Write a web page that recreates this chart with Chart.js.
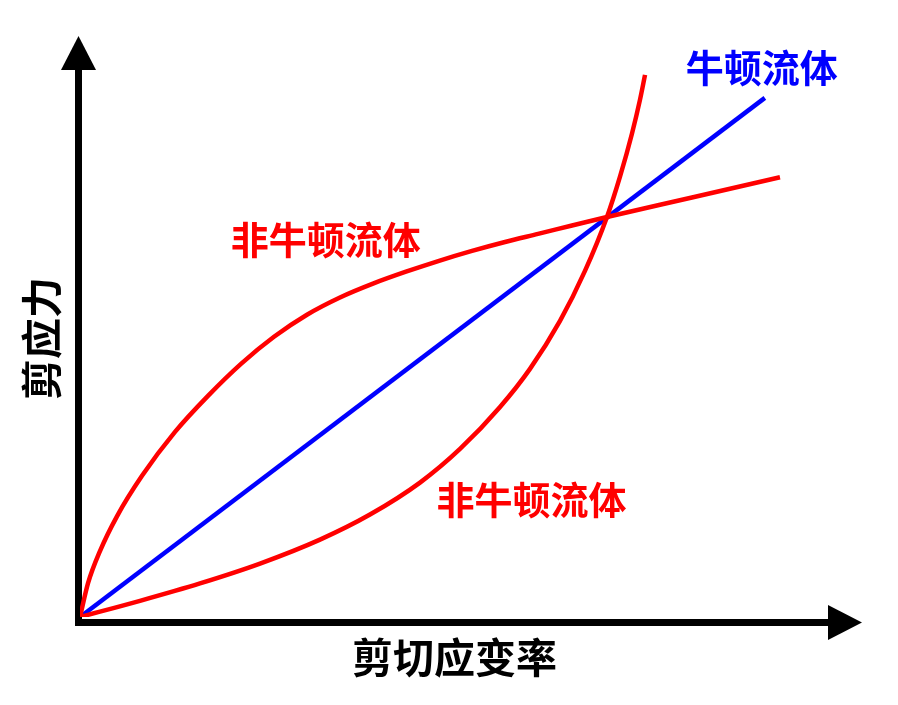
<!doctype html>
<html>

<head>
  <meta charset="utf-8">
  <title>牛顿流体与非牛顿流体</title>
  <script src="https://cdn.jsdelivr.net/npm/chart.js@4.4.0/dist/chart.umd.min.js"></script>
  <style>
    body {
      margin: 0;
      background: #fff;
    }
    canvas {
      display: block;
    }
  </style>
</head>

<body>
  <canvas id="myChart" width="898" height="705"></canvas>

  <script>
    // schematic units: shear rate (x) vs shear stress (y), both 0..100
    var newtonX = [0, 87.8];
    var newtonY = [0, 89.5];

    // shear-thinning curve (concave)
    var thinningX = [0, 1.03, 2.56, 4.74, 7.95, 12.18, 16.41, 20.64, 24.87, 29.10, 33.33, 37.56, 41.79, 46.03, 50.26, 54.49, 58.72, 62.95, 67.56, 78.46, 89.74];
    var thinningY = [0, 5.83, 11.36, 17.36, 24.34, 31.91, 38.12, 43.64, 48.31, 52.12, 55.09, 57.48, 59.53, 61.41, 63.12, 64.66, 66.05, 67.45, 68.97, 72.33, 75.83];

    // shear-thickening curve (convex)
    var thickeningX = [0, 7.69, 15.38, 23.08, 30.77, 37.18, 43.59, 48.72, 53.85, 57.69, 61.54, 64.74, 67.56, 69.23, 70.77, 71.79, 72.44];
    var thickeningY = [0, 2.79, 5.79, 9.21, 13.34, 17.66, 23.17, 28.97, 36.21, 42.78, 51.05, 59.67, 68.97, 75.91, 83.36, 89.16, 93.47];

    var xTitle = '剪切应变率';
    var yTitle = '剪应力';
    var newtonLabel = '牛顿流体';
    var nonNewtonLabel = '非牛顿流体';

    function points(xs, ys) {
      return xs.map(function(x, i) {
        return { x: x, y: ys[i] };
      });
    }

    var RED = '#ff0000';
    var BLUE = '#0000ff';
    var CJK = '"Noto Sans CJK SC", "Noto Sans", sans-serif';

    // axes with arrow heads, axis titles and curve labels
    var sketchPlugin = {
      id: 'sketch',
      beforeDatasetsDraw: function(chart) {
        var ctx = chart.ctx;
        var area = chart.chartArea;
        var x0 = chart.scales.x.getPixelForValue(0);
        var y0 = chart.scales.y.getPixelForValue(0);
        ctx.save();
        ctx.fillStyle = '#000';
        // y axis
        var ax = x0 - 1.5;
        var topBase = area.top + 33;
        ctx.fillRect(x0 - 5, topBase, 7, y0 + 9 - topBase);
        ctx.beginPath();
        ctx.moveTo(ax, area.top - 1);
        ctx.lineTo(ax + 17.5, topBase);
        ctx.lineTo(ax - 17.5, topBase);
        ctx.closePath();
        ctx.fill();
        // x axis
        var ay = y0 + 5.5;
        var rightBase = area.right - 32;
        ctx.fillRect(x0 - 5, y0 + 2, rightBase - (x0 - 5), 7);
        ctx.beginPath();
        ctx.moveTo(area.right + 2, ay);
        ctx.lineTo(rightBase, ay - 17.5);
        ctx.lineTo(rightBase, ay + 17.5);
        ctx.closePath();
        ctx.fill();
        ctx.restore();
      },
      afterDatasetsDraw: function(chart) {
        var ctx = chart.ctx;
        var xs = chart.scales.x;
        var ys = chart.scales.y;
        var y0 = ys.getPixelForValue(0);
        var x0 = xs.getPixelForValue(0);
        ctx.save();
        ctx.textAlign = 'center';
        ctx.textBaseline = 'middle';

        ctx.fillStyle = '#000';
        ctx.font = 'bold 41px ' + CJK;
        ctx.fillText(xTitle, xs.getPixelForValue(48), y0 + 40);
        ctx.save();
        ctx.translate(x0 - 39, ys.getPixelForValue(48));
        ctx.rotate(-Math.PI / 2);
        ctx.fillText(yTitle, 0, 0);
        ctx.restore();

        ctx.font = 'bold 38px ' + CJK;
        ctx.fillStyle = BLUE;
        ctx.fillText(newtonLabel, xs.getPixelForValue(87.4), ys.getPixelForValue(94.7));
        ctx.fillStyle = RED;
        ctx.fillText(nonNewtonLabel, xs.getPixelForValue(31.5), ys.getPixelForValue(65.0));
        ctx.fillText(nonNewtonLabel, xs.getPixelForValue(57.9), ys.getPixelForValue(20.2));
        ctx.restore();
      }
    };

    var config = {
      type: 'line',
      data: {
        datasets: [{
          label: 'thinning',
          data: points(thinningX, thinningY),
          borderColor: RED,
          borderWidth: 4.5,
          pointRadius: 0,
          cubicInterpolationMode: 'monotone',
          fill: false
        }, {
          label: 'thickening',
          data: points(thickeningX, thickeningY),
          borderColor: RED,
          borderWidth: 4.5,
          pointRadius: 0,
          cubicInterpolationMode: 'monotone',
          fill: false
        }, {
          label: 'newtonian',
          data: points(newtonX, newtonY),
          borderColor: BLUE,
          borderWidth: 4.5,
          pointRadius: 0,
          fill: false
        }]
      },
      options: {
        responsive: false,
        animation: false,
        layout: {
          padding: { left: 80, right: 38, top: 37, bottom: 88 }
        },
        scales: {
          x: { type: 'linear', min: 0, max: 100, display: false },
          y: { type: 'linear', min: 0, max: 100, display: false }
        },
        plugins: {
          legend: { display: false },
          tooltip: { enabled: false }
        }
      },
      plugins: [sketchPlugin]
    };

    window.onload = function() {
      var ctx = document.getElementById('myChart').getContext('2d');
      window.myChart = new Chart(ctx, config);
    };
  </script>
</body>

</html>
